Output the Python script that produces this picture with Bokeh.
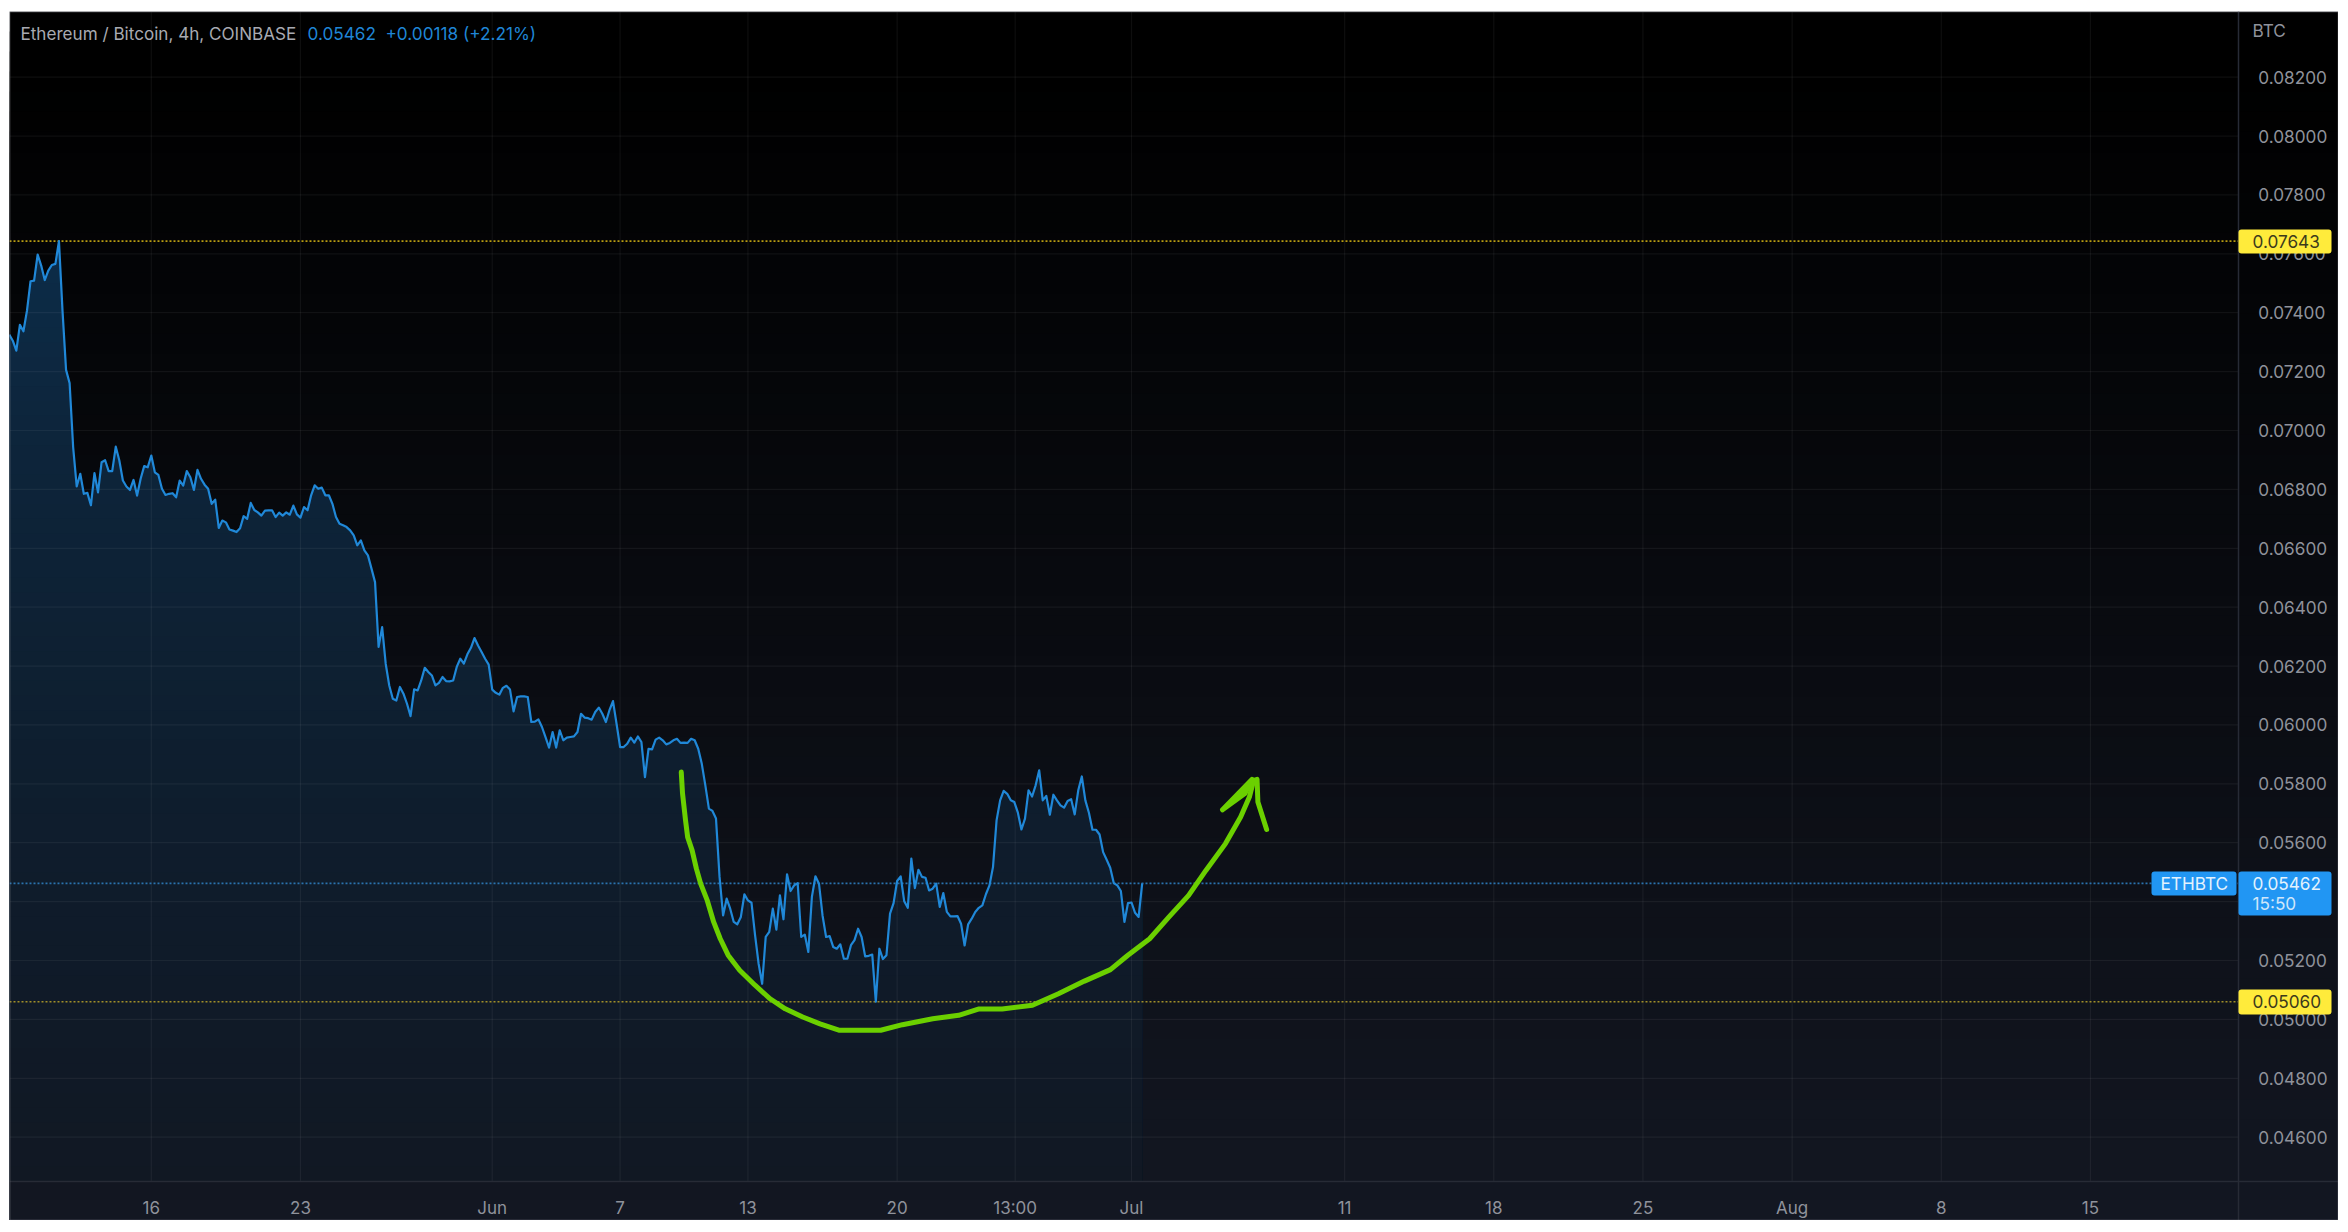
import numpy as np
from bokeh.plotting import figure
from bokeh.models import Range1d, FixedTicker, Label, BoxAnnotation, NumeralTickFormatter
from bokeh.embed import file_html
from bokeh.resources import INLINE

# 4h closes. Day numbers count from 1 May (0 = 1 May 00:00).
first_day = 8 + 1 / 3
close_a = [.07326, .07305, .07271, .07359, .07337, .07407, .07507, .07509, .07597, .07560, .07511, .07543, .07562, .07566, .07643,
           .07407, .07206, .07161, .06943, .06810, .06853, .06785, .06788, .06746, .06855, .06790, .06892, .06899, .06862, .06862,
           .06945, .06898, .06830, .06810, .06798, .06832, .06779, .06836, .06879, .06875, .06915, .06858, .06849, .06802, .06781,
           .06785, .06787, .06773, .06830, .06813, .06862, .06841, .06798, .06866, .06836, .06816, .06802, .06751, .06765, .06669,
           .06694, .06688, .06664, .06660, .06655, .06668, .06709, .06700, .06754, .06730, .06722, .06711, .06728]
close_b = [.06729, .06729, .06706, .06721, .06711, .06722, .06714, .06745, .06715, .06704, .06740, .06729, .06780, .06814, .06802,
           .06806, .06780, .06780, .06751, .06706, .06683, .06678, .06672, .06661, .06644, .06610, .06627, .06593, .06576, .06531,
           .06485, .06265, .06332, .06208, .06134, .06089, .06083, .06129, .06106, .06072, .06030, .06121, .06117, .06151, .06194,
           .06180, .06168, .06134, .06143, .06163, .06149, .06148, .06151, .06197, .06225, .06208, .06240, .06262, .06295, .06270,
           .06248, .06225, .06205, .06120, .06109, .06103, .06126, .06133, .06120, .06046, .06095, .06097]
close_c = [.06097, .06095, .06010, .06011, .06019, .05993, .05959, .05923, .05976, .05923, .05982, .05948, .05957, .05959, .05961,
           .05976, .06038, .06025, .06023, .06018, .06044, .06059, .06038, .06010, .06050, .06081, .06004, .05925, .05925, .05936,
           .05957, .05940, .05961, .05942, .05823, .05919, .05917, .05950, .05957, .05948, .05934, .05939, .05948, .05953, .05939,
           .05940, .05939, .05953, .05948, .05919, .05868, .05795, .05716, .05708, .05682]
close_d = [.05484, .05353, .05410, .05376, .05331, .05323, .05348, .05425, .05404, .05396, .05286, .05189, .05121, .05280, .05297,
           .05376, .05305, .05421, .05340, .05493, .05436, .05455, .05463, .05280, .05288, .05229, .05416, .05486, .05461, .05353,
           .05280, .05283, .05246, .05240, .05255, .05206, .05206, .05252, .05269, .05308, .05280, .05214, .05216, .05220, .05060,
           .05240, .05205, .05218, .05359, .05395, .05470, .05486, .05401, .05379, .05546, .05446, .05508, .05484, .05481, .05438,
           .05444, .05461, .05382]
close_e = [.05429, .05365, .05350, .05350, .05351, .05325, .05251, .05323, .05342, .05365, .05379, .05387, .05425, .05455, .05518,
           .05676, .05744, .05776, .05766, .05744, .05738, .05702, .05645, .05682, .05778, .05757, .05795, .05846, .05744, .05759,
           .05695, .05763, .05744, .05727, .05719, .05742, .05748, .05696, .05778, .05825, .05744, .05702, .05644, .05644, .05628,
           .05568, .05542, .05515, .05463, .05455, .05436, .05331, .05395, .05397, .05362, .05348, .05462]

# Hand-drawn green curve and arrow head (day, price)
curve_day = [39.87, 39.93, 40.07, 40.17, 40.38, 40.58, 40.78, 41.09, 41.39, 41.70, 42.07, 42.61, 43.33, 44.04, 44.75, 45.57, 46.38, 47.30, 49.23,
             50.25, 51.67, 52.89, 53.81, 54.93, 56.35, 57.57, 58.79, 60.01, 60.83, 61.85, 62.76, 63.68, 64.49, 65.41, 66.12, 66.53, 66.73]
curve_price = [.05840, .05767, .05676, .05619, .05574, .05512, .05461, .05404, .05331, .05274, .05218, .05167, .05116, .05070, .05036, .05008, .04985, .04963, .04963,
               .04982, .05002, .05014, .05035, .05035, .05048, .05087, .05130, .05169, .05218, .05274, .05348, .05421, .05506, .05597, .05687, .05755, .05812]
barb_left_day = [65.27, 66.65, 66.32, 65.27]
barb_left_price = [.05712, .05815, .05767, .05712]
barb_right_day = [66.73, 66.89, 66.93, 67.34]
barb_right_price = [.05812, .05815, .05738, .05645]

price_ticks = [.046, .048, .050, .052, .054, .056, .058, .060, .062, .064, .066, .068, .070, .072, .074, .076, .078, .080, .082]
time_ticks = [15, 22, 31, 37, 43, 50, 55.54, 61, 71, 78, 85, 92, 99, 106]
time_labels = ["16", "23", "Jun", "7", "13", "20", "13:00", "Jul", "11", "18", "25", "Aug", "8", "15"]

high_price = 0.07643
low_price = 0.05060
last_price = 0.05462

FONT = "Inter"
TICK_COL = "#8f929b"
BLUE = "#2196f3"
YELLOW = "#ffeb3b"

close = np.array(close_a + close_b + close_c + close_d + close_e)
days = first_day + np.arange(len(close)) / 6

W, H = 2329, 1209      # whole dark panel, all of it the frame

# data limits of the pane and of the whole panel
pane_right, pane_bottom, pane_top, pane_left = 112.94, 0.04450, 0.08423, 8.346
panel_right, panel_bottom = 117.64, 0.04317

p = figure(width=W, height=H,
           x_range=Range1d(pane_left, panel_right), y_range=Range1d(panel_bottom, pane_top),
           output_backend="svg", toolbar_location=None, tools="",
           y_axis_location="right",
           min_border_left=0, min_border_top=0, min_border_right=0, min_border_bottom=0)
p.margin = (11, 0, 0, 9)
p.border_fill_color = "#000000"
p.background_fill_alpha = 0
p.outline_line_color = None
p.grid.visible = False


def mix(stops, t):
    ts = [s[0] for s in stops]
    return "#%02x%02x%02x" % tuple(int(round(np.interp(t, ts, [s[1][c] for s in stops]))) for c in range(3))


CANVAS = dict(left_units="canvas", right_units="canvas", top_units="canvas", bottom_units="canvas")

# vertical page gradient: each band runs on down to the bottom, later ones paint over
bg_stops = [(60, (0, 0, 0)), (H, (19, 23, 34))]
edges = np.linspace(0, H, 61).astype(int)
for a, b in zip(edges[:-1], edges[1:]):
    p.add_layout(BoxAnnotation(left=0, right=W, top=int(a), bottom=H, **CANVAS,
                               fill_color=mix(bg_stops, (a + b) / 2), fill_alpha=1, line_color=None, level="underlay"))

# area under the line, gradient in price; painted from the top band downward
area_stops = [(0.0445, (17, 24, 35)), (0.0534, (15, 27, 42)), (0.0602, (14, 31, 48)), (0.0690, (13, 36, 58)), (0.0765, (12, 44, 72))]
levels = np.linspace(0.0445, 0.0775, 67)
for lo, hi in list(zip(levels[:-1], levels[1:]))[::-1]:
    p.varea(days, np.minimum(close, hi), np.full(len(close), pane_bottom),
            fill_color=mix(area_stops, (lo + hi) / 2), fill_alpha=1)

# grid, limited to the chart pane
p.segment(time_ticks, pane_bottom, time_ticks, pane_top, line_color="#ffffff", line_alpha=0.055, line_width=1.2)
p.segment(pane_left, price_ticks, pane_right, price_ticks, line_color="#ffffff", line_alpha=0.055, line_width=1.2)

for level, colour in [(high_price, "#b89c12"), (low_price, "#a08e28"), (last_price, "#2a72ad")]:
    p.segment(pane_left, level, pane_right, level, line_color=colour, line_width=1.7, line_dash="2 2")

p.line(days, close, line_color="#2088d8", line_width=2.2, line_join="round")

GREEN = "#6bd000"
for xs, ys in [(curve_day, curve_price), (barb_left_day, barb_left_price), (barb_right_day, barb_right_price)]:
    p.line(xs, ys, line_color=GREEN, line_width=5, line_cap="round", line_join="round")

# axes sit at fixed places inside the frame
p.xaxis.fixed_location = pane_bottom
p.yaxis.fixed_location = pane_right
p.xaxis.ticker = FixedTicker(ticks=time_ticks)
p.xaxis.major_label_overrides = dict(zip(time_ticks, time_labels))
p.yaxis.ticker = FixedTicker(ticks=price_ticks)
p.yaxis.formatter = NumeralTickFormatter(format="0.00000")
for ax in (p.xaxis[0], p.yaxis[0]):
    ax.major_tick_line_color = None
    ax.minor_tick_line_color = None
    ax.axis_line_color = "#272b36"
    ax.axis_line_width = 1.5
    ax.major_label_text_font = FONT
    ax.major_label_text_color = TICK_COL
p.xaxis.major_label_text_font_size = "17px"
p.yaxis.major_label_text_font_size = "17.2px"
p.xaxis.major_label_standoff = 11
p.yaxis.major_label_standoff = 14


def tag(left, right, top, bottom, color):
    p.add_layout(BoxAnnotation(left=left - 9, right=right - 9, top=top - 11, bottom=bottom - 11, **CANVAS,
                               fill_color=color, fill_alpha=1, line_color=None, border_radius=3))


def text(x, y, s, color, size="17.2px", y_data=False):
    p.add_layout(Label(x=x - 9, y=y if y_data else y - 11, x_units="canvas", y_units="data" if y_data else "canvas",
                       text=s, text_color=color, text_font=FONT, text_font_size=size,
                       text_align="left", text_baseline="middle"))


tag(2238, 2331, 229, 253, YELLOW)
text(2252, high_price, "0.07643", "#3c3a1c", y_data=True)
tag(2238, 2331, 989, 1014, YELLOW)
text(2252, low_price, "0.05060", "#3c3a1c", y_data=True)
tag(2151, 2236, 871, 895, BLUE)
text(2160, last_price, "ETHBTC", "#e3f2fd", y_data=True)
tag(2238, 2331, 871, 915, BLUE)
text(2252, last_price, "0.05462", "#e3f2fd", y_data=True)
text(2252, 903, "15:50", "#cfe6fa")
text(2252, 30, "BTC", TICK_COL)

text(20, 33, "Ethereum / Bitcoin, 4h, COINBASE", "#a8aab2", "17.1px")
text(307, 33, "0.05462", "#1f86d6", "17.2px")
text(385, 33, "+0.00118 (+2.21%)", "#1f86d6", "17.2px")

# thin grey edge of the screenshot
p.add_layout(BoxAnnotation(left=0, right=W, top=0, bottom=H, **CANVAS, fill_alpha=0,
                           line_color="#8e9198", line_alpha=0.7, line_width=1.5, level="overlay"))

html = file_html(p, INLINE)
open("out.html", "w").write(html)
